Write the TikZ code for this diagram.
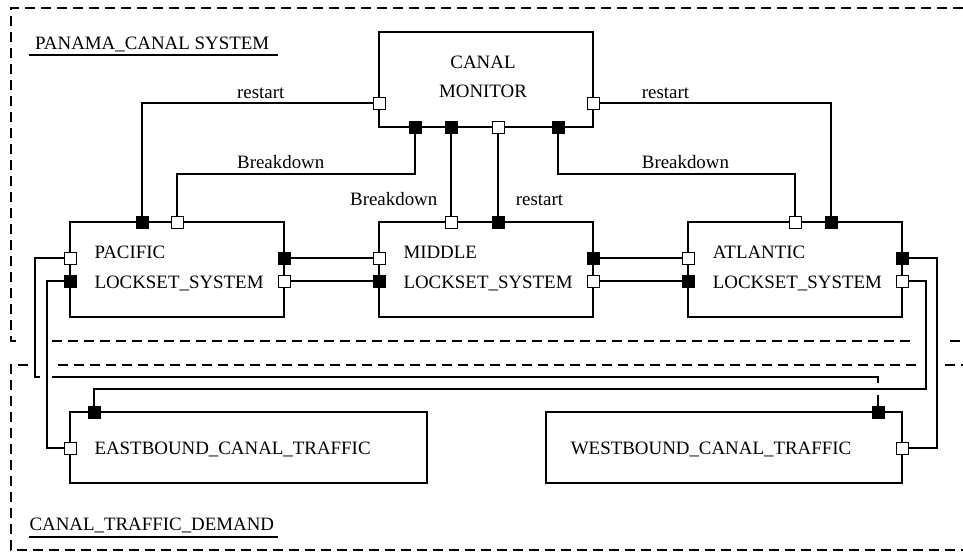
\documentclass[tikz,border=0pt]{standalone}
\usepackage{fontspec}
\setmainfont{Liberation Serif}
\pgfdeclarelayer{bg}
\pgfsetlayers{bg,main}
\begin{document}
\begin{tikzpicture}[x=1pt,y=-1pt,
  font=\fontsize{18.9}{22}\selectfont,
  box/.style={draw, line width=1.2pt, inner sep=0pt},
  lbox/.style={box, minimum width=214pt, minimum height=95pt},
  tbox/.style={box, minimum height=71pt},
  pw/.style={draw, line width=1pt, fill=white, inner sep=0pt, minimum size=12pt},
  pb/.style={pw, fill=black},
  wire/.style={line width=1.2pt},
  frame/.style={line width=2.4pt, dash pattern=on 10pt off 6pt},
  txt/.style={inner sep=0pt, anchor=base west},
  ctxt/.style={inner sep=0pt, anchor=base}]
\useasboundingbox (0,0) rectangle (963,555);

% frames
\draw[frame] (963,8) -- (11,8) -- (11,341) -- (22,341);
\draw[frame] (52,341) -- (915,341);
\draw[frame] (950,341) -- (963,341);
\draw[frame] (28,365) -- (11,365) -- (11,550) -- (963,550);
\draw[frame] (58,365) -- (920,365);
\draw[frame] (945,365) -- (963,365);

\node[txt] (t1) at (35,49.3) {PANAMA\_CANAL SYSTEM};
\coordinate (u1a) at (29,55); \coordinate (u1b) at (278,55);
\draw[wire] (u1a) -- (u1b);
\node[txt] (t2) at (29.3,530.7) {CANAL\_TRAFFIC\_DEMAND};
\coordinate (u2a) at (29,537); \coordinate (u2b) at (278,537);
\draw[wire] (u2a) -- (u2b);

% boxes
\node[lbox] (mon) at (486,79.5) {};
\node[lbox] (pac) at (177,269.5) {};
\node[lbox] (mid) at (486,269.5) {};
\node[lbox] (atl) at (795,269.5) {};
\node[tbox, minimum width=357pt] (east) at (248.5,447.5) {};
\node[tbox, minimum width=356pt] (west) at (724,447.5) {};

% box texts
\node[ctxt] (mon1) at (483,68) {CANAL};
\node[ctxt] (mon2) at (483,97.7) {MONITOR};
\node[txt] (pac1) at (94.3,258.3) {PACIFIC};
\node[txt] (pac2) at (94.3,288.3) {LOCKSET\_SYSTEM};
\node[txt] (mid1) at (403.3,258.3) {MIDDLE};
\node[txt] (mid2) at (403.3,288.3) {LOCKSET\_SYSTEM};
\node[txt] (atl1) at (712.7,258.3) {ATLANTIC};
\node[txt] (atl2) at (712.7,288.3) {LOCKSET\_SYSTEM};
\node[txt] (east1) at (94.3,454) {EASTBOUND\_CANAL\_TRAFFIC};
\node[txt] (west1) at (570.7,454) {WESTBOUND\_CANAL\_TRAFFIC};

% connector labels
\node[txt] (l1) at (237,98.3) {restart};
\node[txt] (l2) at (237,168.3) {Breakdown};
\node[txt] (l3) at (350,205) {Breakdown};
\node[txt] (l4) at (515.7,205) {restart};
\node[txt] (l5) at (641.7,168.3) {Breakdown};
\node[txt] (l6) at (641.7,98.3) {restart};

% ports
\node[pw] (mL) at (379,103) {};
\node[pw] (mR) at (593,103) {};
\node[pb] (mB1) at (415,127) {};
\node[pb] (mB2) at (451,127) {};
\node[pw] (mB3) at (498,127) {};
\node[pb] (mB4) at (558,127) {};

\node[pb] (pT1) at (142,222) {};
\node[pw] (pT2) at (177,222) {};
\node[pw] (pL1) at (70,258) {};
\node[pb] (pL2) at (70,281) {};
\node[pb] (pR1) at (284,258) {};
\node[pw] (pR2) at (284,281) {};

\node[pw] (dT1) at (451,222) {};
\node[pb] (dT2) at (498,222) {};
\node[pw] (dL1) at (379,258) {};
\node[pb] (dL2) at (379,281) {};
\node[pb] (dR1) at (593,258) {};
\node[pw] (dR2) at (593,281) {};

\node[pw] (aT1) at (795,222) {};
\node[pb] (aT2) at (831,222) {};
\node[pw] (aL1) at (688,258) {};
\node[pb] (aL2) at (688,281) {};
\node[pb] (aR1) at (902,258) {};
\node[pw] (aR2) at (902,281) {};

\node[pb] (eT) at (94,412) {};
\node[pw] (eL) at (70,448) {};
\node[pb] (wT) at (878,412) {};
\node[pw] (wR) at (902,448) {};

% bend points
\coordinate (kL) at (177,174);
\coordinate (kR) at (795,174);
\coordinate (e1) at (35,377);
\coordinate (h1) at (40,377);
\coordinate (h2) at (52,377);
\coordinate (e2) at (878,377);
\coordinate (g1) at (878,383);
\coordinate (g2) at (878,395);
\coordinate (c9) at (47,448);
\coordinate (c10) at (926,389);
\coordinate (c11) at (937,448);

\begin{pgfonlayer}{bg}
\draw[wire] (mL.center) -| (pT1.center);
\draw[wire] (mB1.center) |- (kL) -- (pT2.center);
\draw[wire] (mB2.center) -- (dT1.center);
\draw[wire] (mB3.center) -- (dT2.center);
\draw[wire] (mB4.center) |- (kR) -- (aT1.center);
\draw[wire] (mR.center) -| (aT2.center);
\draw[wire] (pR1.center) -- (dL1.center);
\draw[wire] (pR2.center) -- (dL2.center);
\draw[wire] (dR1.center) -- (aL1.center);
\draw[wire] (dR2.center) -- (aL2.center);
\draw[wire] (pL1.center) -| (e1) -- (h1);
\draw[wire] (h2) -- (e2) -- (g1);
\draw[wire] (g2) -- (wT.center);
\draw[wire] (pL2.center) -| (c9) -- (eL.center);
\draw[wire] (aR2.center) -| (c10) -| (eT.center);
\draw[wire] (aR1.center) -| (c11) -- (wR.center);
\end{pgfonlayer}
\end{tikzpicture}
\end{document}
